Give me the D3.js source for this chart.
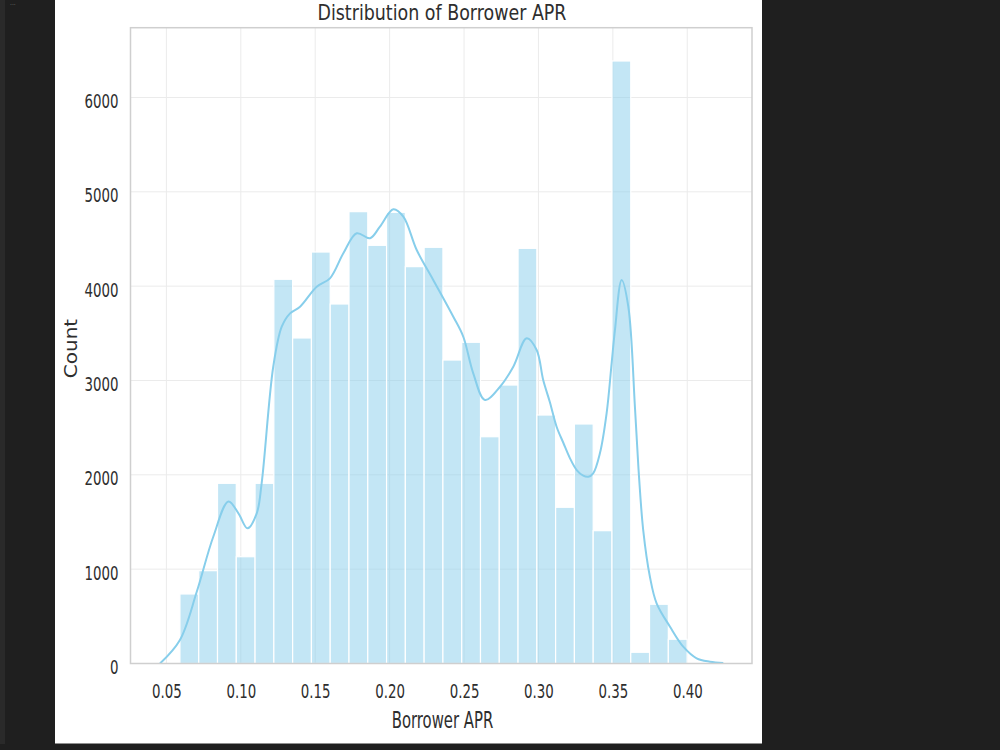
<!DOCTYPE html>
<html><head><meta charset="utf-8">
<script src="https://cdn.jsdelivr.net/npm/d3@7"></script>
<style>html,body{margin:0;padding:0;background:#1f1f1f;}svg{display:block;}</style>
</head><body>
<svg id="chart" width="1000" height="750"></svg>
<script>
// ---- data ----
const binCounts = [737, 984, 1910, 1132, 1910, 4073, 3451, 4362, 3811, 4790, 4433, 4783, 4207, 4412,
                   3217, 3405, 2404, 2952, 4401, 2634, 1656, 2539, 1408, 6387, 119, 628, 257];
const binLow = 0.0591;
const binHigh = 0.3999;
const kdeX = [0.0457, 0.0591, 0.0704, 0.0815, 0.0917, 0.0984, 0.1045, 0.1107, 0.1140, 0.1218, 0.1275,
              0.1331, 0.1398, 0.1510, 0.1599, 0.1689, 0.1779, 0.1868, 0.1935, 0.2025, 0.2092, 0.2182,
              0.2293, 0.2428, 0.2495, 0.2562, 0.2641, 0.2742, 0.2831, 0.2921, 0.2988, 0.3032, 0.3077,
              0.3122, 0.3167, 0.3212, 0.3257, 0.3301, 0.3335, 0.3368, 0.3413, 0.3458, 0.3492, 0.3514,
              0.3559, 0.3604, 0.3649, 0.3675, 0.3704, 0.3749, 0.3794, 0.3884, 0.3973, 0.4063, 0.4152, 0.4242];
const kdeY = [0, 250, 760, 1344, 1718, 1592, 1433, 1592, 1910, 3146, 3570,
              3712, 3782, 3994, 4083, 4349, 4561, 4508, 4631, 4815, 4737, 4383,
              4066, 3676, 3464, 3076, 2793, 2934, 3146, 3447, 3323, 3005, 2770,
              2510, 2340, 2175, 2051, 1991, 1980, 2016, 2228, 2652, 3185, 3535,
              4066, 3782, 2700, 2000, 1415, 920, 638, 390, 178, 55, 19, 5];
const xTicks = [0.05, 0.10, 0.15, 0.20, 0.25, 0.30, 0.35, 0.40];
const yTicks = [0, 1000, 2000, 3000, 4000, 5000, 6000];
const titleText = "Distribution of Borrower APR";
const xLabelText = "Borrower APR";
const yLabelText = "Count";

// ---- drawing ----
const svg = d3.select("#chart");
const FONT = "DejaVu Sans, Verdana, sans-serif";
const TXT = "#2e2e2e";

svg.append("rect").attr("x", 0).attr("y", 0).attr("width", 1000).attr("height", 750).attr("fill", "#1f1f1f");
svg.append("rect").attr("x", 0).attr("y", 0).attr("width", 5).attr("height", 744).attr("fill", "#2a2a2a");
svg.append("rect").attr("x", 55).attr("y", 0).attr("width", 707).attr("height", 743.5).attr("fill", "#ffffff");
svg.append("text").attr("x", 10).attr("y", 5).attr("font-size", 6).attr("fill", "#777")
   .attr("font-family", FONT).text("...");

const P = {left: 130.5, right: 752, top: 27.7, bottom: 663.5};
const x = d3.scaleLinear().domain([0.02588, 0.4435]).range([P.left, P.right]);
const y = d3.scaleLinear().domain([0, 6740]).range([P.bottom, P.top]);

svg.append("defs").append("clipPath").attr("id", "clip")
  .append("rect").attr("x", P.left).attr("y", P.top)
  .attr("width", P.right - P.left).attr("height", P.bottom - P.top);

// grid
const grid = svg.append("g");
grid.selectAll("line.v").data(xTicks).join("line").attr("class", "v")
  .attr("x1", d => x(d)).attr("x2", d => x(d)).attr("y1", P.top).attr("y2", P.bottom)
  .attr("stroke", "#ebebeb").attr("stroke-width", 1);
grid.selectAll("line.h").data(yTicks).join("line").attr("class", "h")
  .attr("x1", P.left).attr("x2", P.right).attr("y1", d => y(d)).attr("y2", d => y(d))
  .attr("stroke", "#ebebeb").attr("stroke-width", 1);

// bars
const n = binCounts.length;
const bw = (binHigh - binLow) / n;
const bins = binCounts.map((c, i) => ({x0: binLow + i * bw, x1: binLow + (i + 1) * bw, c}));
const plotG = svg.append("g").attr("clip-path", "url(#clip)");
plotG.selectAll("rect.bar").data(bins).join("rect").attr("class", "bar")
  .attr("x", d => x(d.x0)).attr("width", d => x(d.x1) - x(d.x0))
  .attr("y", d => y(d.c)).attr("height", d => y(0) - y(d.c))
  .attr("fill", "#87CEEB").attr("fill-opacity", 0.5)
  .attr("stroke", "#ffffff").attr("stroke-width", 1.2);

// kde
const kde = kdeX.map((v, i) => [v, kdeY[i]]);
plotG.append("path").datum(kde)
  .attr("d", d3.line().x(d => x(d[0])).y(d => y(d[1])).curve(d3.curveCatmullRom.alpha(0.5)))
  .attr("fill", "none").attr("stroke", "#87CEEB").attr("stroke-width", 2);

// frame
svg.append("rect").attr("x", P.left).attr("y", P.top)
  .attr("width", P.right - P.left).attr("height", P.bottom - P.top)
  .attr("fill", "none").attr("stroke", "#cfcfcf").attr("stroke-width", 1.5);

// axes
const SQ = 0.668;
function squeeze(sel) {
  sel.each(function () {
    const w = this.getComputedTextLength();
    d3.select(this).attr("textLength", w * SQ).attr("lengthAdjust", "spacingAndGlyphs");
  });
}
const xAxis = svg.append("g").attr("transform", `translate(0,${P.bottom})`)
  .call(d3.axisBottom(x).tickValues(xTicks).tickFormat(d3.format(".2f")).tickSize(0).tickPadding(20.5));
const yAxis = svg.append("g").attr("transform", `translate(${P.left},0)`)
  .call(d3.axisLeft(y).tickValues(yTicks).tickFormat(d3.format("d")).tickSize(0).tickPadding(12));
[xAxis, yAxis].forEach(a => {
  a.select(".domain").remove();
  a.selectAll("text").attr("font-family", FONT).attr("font-size", 20).attr("fill", TXT);
});
yAxis.selectAll("text").attr("dy", 10);
squeeze(xAxis.selectAll("text"));
squeeze(yAxis.selectAll("text"));

// titles
svg.append("text").attr("x", 442).attr("y", 19.5).attr("text-anchor", "middle")
  .attr("font-family", FONT).attr("font-size", 21.5).attr("fill", TXT)
  .attr("textLength", 249).attr("lengthAdjust", "spacingAndGlyphs").text(titleText);
svg.append("text").attr("x", 442.5).attr("y", 728.3).attr("text-anchor", "middle")
  .attr("font-family", FONT).attr("font-size", 22.5).attr("fill", TXT)
  .attr("textLength", 101.6).attr("lengthAdjust", "spacingAndGlyphs").text(xLabelText);
svg.append("text").attr("transform", "translate(76.5,348.5) scale(0.85,1) rotate(-90)")
  .attr("text-anchor", "middle").attr("font-family", FONT).attr("font-size", 20).attr("fill", TXT)
  .text(yLabelText);
</script>
</body></html>
